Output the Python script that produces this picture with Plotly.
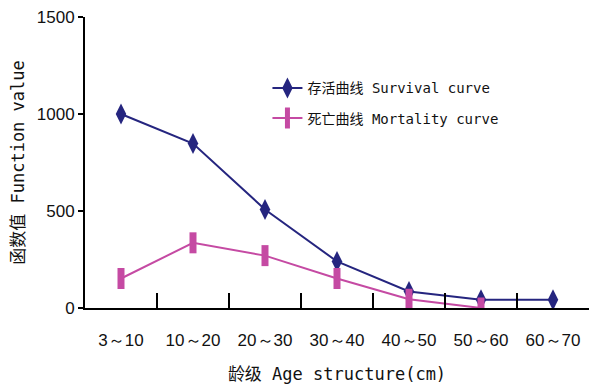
import plotly.graph_objects as go

# Age classes (diameter classes, cm)
age_classes = ["3～10", "10～20", "20～30", "30～40", "40～50", "50～60", "60～70"]
survival = [1000, 848, 508, 240, 85, 42, 42]
mortality = [152, 336, 270, 152, 45, 0]

navy = "#25257f"
magenta = "#c54aa3"
label_font = "DejaVu Sans Mono, Noto Sans CJK SC"

fig = go.Figure()
fig.add_trace(go.Scatter(
    x=age_classes, y=survival, mode="lines+markers",
    name="存活曲线 Survival curve", legendgroup="s",
    line=dict(color=navy, width=2),
    marker=dict(symbol="diamond-tall", size=15, color=navy),
))
fig.add_trace(go.Scatter(
    x=age_classes[:len(mortality)], y=mortality, mode="lines+markers",
    name="死亡曲线 Mortality curve", legendgroup="m",
    line=dict(color=magenta, width=2),
    marker=dict(symbol="line-ns", size=15, color=magenta,
                line=dict(color=magenta, width=7)),
))

fig.update_layout(
    width=590, height=387,
    margin=dict(l=85, r=1, t=17, b=79),
    paper_bgcolor="white", plot_bgcolor="white",
    font=dict(family="Liberation Sans, Arial", size=17, color="#111"),
    showlegend=True,
    legend=dict(
        x=0.362, y=0.81, xanchor="left", yanchor="top",
        bgcolor="rgba(0,0,0,0)",
        font=dict(family=label_font, size=14, color="#111"),
        tracegroupgap=9, itemwidth=30,
    ),
    xaxis=dict(
        type="category", range=[-0.5, 6.5],
        showline=True, linecolor="black", linewidth=2,
        ticks="inside", tickson="boundaries", ticklen=15, tickwidth=2, tickcolor="black",
        ticklabelstandoff=16,
        showgrid=False, zeroline=False,
        title=dict(text="龄级 Age structure(cm)", font=dict(family=label_font, size=17), standoff=19),
    ),
    yaxis=dict(
        range=[0, 1500], tickvals=[0, 500, 1000, 1500],
        showline=True, linecolor="black", linewidth=2,
        ticks="outside", ticklen=5, tickwidth=2, tickcolor="black",
        showgrid=False, zeroline=False,
        title=dict(text="函数值 Function value", font=dict(family=label_font, size=17), standoff=8),
    ),
)

fig.write_html("out.html")
